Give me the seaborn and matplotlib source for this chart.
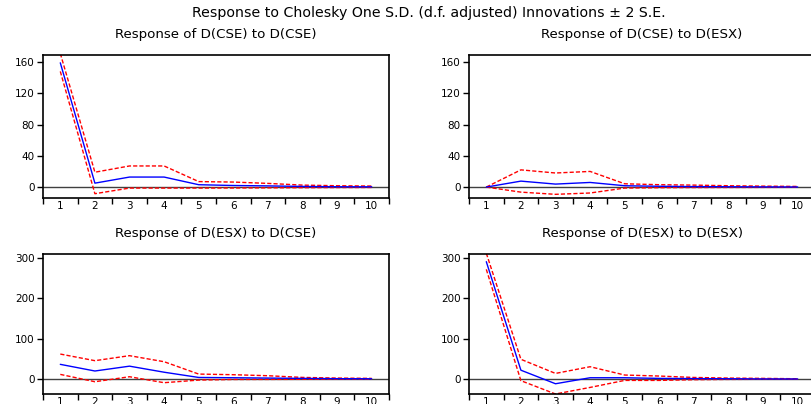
import matplotlib
matplotlib.use("Agg")
import matplotlib.pyplot as plt
import seaborn as sns
import pandas as pd
import numpy as np
from matplotlib.ticker import FixedLocator

sns.set_theme(style="white")
plt.rcParams['font.family'] = ['DejaVu Sans']

periods = [1, 2, 3, 4, 5, 6, 7, 8, 9, 10]

# Response of D(CSE) to D(CSE)
cse_cse = [159, 5, 12.8, 12.8, 3, 2, 1.5, 0.8, 0.4, 0.3]
cse_cse_up = [171, 19, 27, 27, 7, 6.4, 4.7, 2.5, 1.7, 1.3]
cse_cse_lo = [148, -8.5, -1.3, -1.3, -1.3, -1.2, -1.0, -0.8, -0.6, -0.5]

# Response of D(CSE) to D(ESX)
cse_esx = [0, 7.6, 3.8, 5.9, 1.7, 1.0, 0.6, 0.4, 0.2, 0.1]
cse_esx_up = [0, 22, 18, 20, 4.2, 3.0, 2.5, 1.7, 1.2, 0.8]
cse_esx_lo = [0, -6.5, -9.3, -7.6, -1.3, -0.8, -0.6, -0.5, -0.4, -0.3]

# Response of D(ESX) to D(CSE)
esx_cse = [36.5, 20, 32, 17, 4, 3.3, 2.5, 1.7, 1.0, 0.7]
esx_cse_up = [62, 45.6, 58, 43, 12.4, 10.8, 8.3, 4.1, 2.5, 1.7]
esx_cse_lo = [11.6, -6.6, 5.8, -9, -2.5, -1.0, -0.8, -0.6, -0.4, -0.3]

# Response of D(ESX) to D(ESX)
esx_esx = [291, 22, -11.6, 3.3, 3.3, 1.7, 1.2, 0.8, 0.3, 0.2]
esx_esx_up = [312, 49, 14, 30.6, 10, 7.5, 4, 2.5, 1.7, 0.8]
esx_esx_lo = [272, -4, -37, -20.7, -3.3, -3.3, -1.6, -0.8, -0.5, -0.3]

titles = ["Response of D(CSE) to D(CSE)", "Response of D(CSE) to D(ESX)",
          "Response of D(ESX) to D(CSE)", "Response of D(ESX) to D(ESX)"]
series = [(cse_cse, cse_cse_up, cse_cse_lo), (cse_esx, cse_esx_up, cse_esx_lo),
          (esx_cse, esx_cse_up, esx_cse_lo), (esx_esx, esx_esx_up, esx_esx_lo)]
yticks_top = [0, 40, 80, 120, 160]
yticks_bot = [0, 100, 200, 300]

W, H = 812, 404
fig = plt.figure(figsize=(W / 100, H / 100), dpi=100)
fig.patch.set_facecolor("white")

boxes = [
    (43, 55, 346, 143),
    (469, 55, 346, 143),
    (43, 254, 346, 140),
    (469, 254, 346, 140),
]
ylims = [(-14, 169), (-14, 169), (-37, 310), (-37, 310)]

for i, (box, title, (mid, up, lo)) in enumerate(zip(boxes, titles, series)):
    x0, y0, w, h = box
    ax = fig.add_axes([x0 / W, 1 - (y0 + h) / H, w / W, h / H])
    df = pd.DataFrame({
        "period": periods * 3,
        "value": list(mid) + list(up) + list(lo),
        "band": ["mid"] * 10 + ["up"] * 10 + ["lo"] * 10,
    })
    ax.axhline(0, color="#404040", lw=1.0, zorder=1)
    sns.lineplot(data=df[df.band == "mid"], x="period", y="value", ax=ax,
                 color="#0000ff", lw=1.0, zorder=3)
    for b in ["up", "lo"]:
        sns.lineplot(data=df[df.band == b], x="period", y="value", ax=ax,
                     color="#ff0000", lw=1.0, linestyle=(0, (3, 1.5)), zorder=2)
    ax.set_xlim(0.5, 10.5)
    ax.set_ylim(*ylims[i])
    ax.set_xlabel("")
    ax.set_ylabel("")
    ax.set_xticks(periods)
    ax.set_xticklabels([str(p) for p in periods])
    ax.xaxis.set_minor_locator(FixedLocator(np.arange(0.5, 11, 1.0)))
    ax.set_yticks(yticks_top if i < 2 else yticks_bot)
    ax.tick_params(axis="x", which="major", length=0, labelsize=7.5, pad=2, colors="black")
    ax.tick_params(axis="x", which="minor", length=4, width=1, direction="out",
                   bottom=True, color="black")
    ax.tick_params(axis="y", which="major", length=4, width=1, direction="out",
                   left=True, labelsize=7.5, pad=2, colors="black")
    for s in ax.spines.values():
        s.set_color("black")
        s.set_linewidth(1.2)
    ax.set_title(title, fontsize=9.6, pad=12, color="black")

fig.text(429 / W, 1 - 13 / H, "Response to Cholesky One S.D. (d.f. adjusted) Innovations \u00b1 2 S.E.",
         ha="center", va="center", fontsize=10.2, color="black")

fig.savefig("out.png", dpi=100, facecolor="white")
